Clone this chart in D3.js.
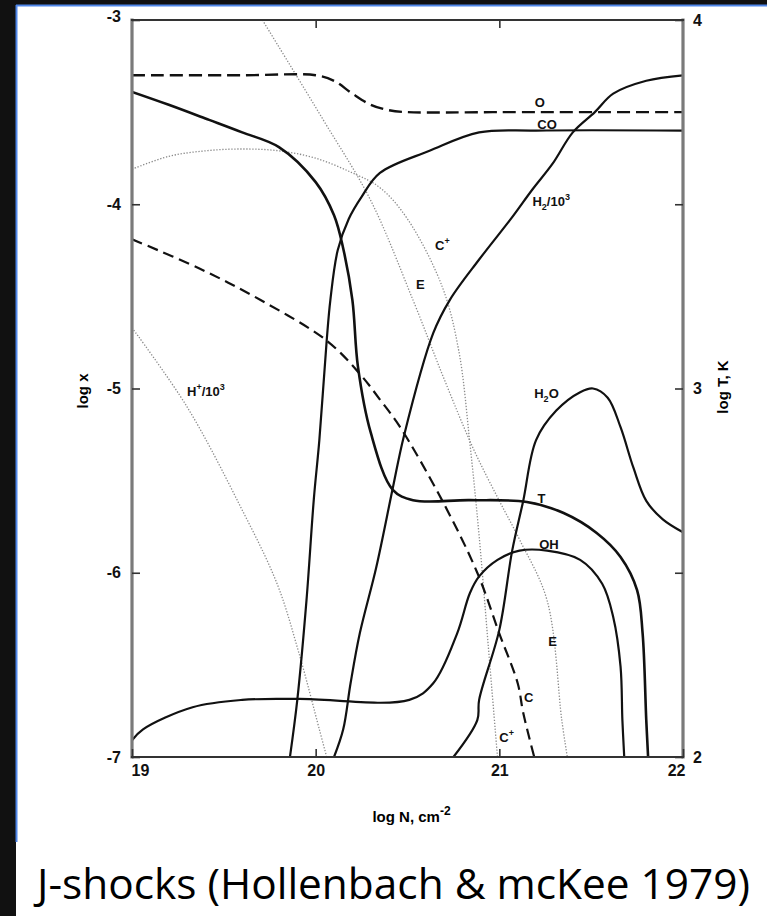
<!DOCTYPE html>
<html>
<head>
<meta charset="utf-8">
<script src="https://cdn.jsdelivr.net/npm/d3@7"></script>
<style>
  body { margin: 0; background: #111; }
  text { font-family: "Liberation Sans", Arial, sans-serif; }
</style>
</head>
<body>
<script>
// values: [log N, log x]  (T is [log N, log T])
var oCurve   = [[19.0,-3.30],[19.6,-3.30],[20.0,-3.30],[20.1,-3.33],[20.2,-3.40],[20.3,-3.46],[20.4,-3.49],[20.5,-3.50],[21.0,-3.50],[22.0,-3.50]];
var coCurve  = [[19.86,-7.0],[19.90,-6.69],[19.95,-6.15],[19.99,-5.60],[20.02,-5.28],[20.06,-4.74],[20.08,-4.52],[20.12,-4.25],[20.18,-4.08],[20.25,-3.96],[20.35,-3.83],[20.62,-3.71],[20.89,-3.61],[21.2,-3.60],[22.0,-3.60]];
var h2Curve  = [[20.10,-7.0],[20.15,-6.85],[20.19,-6.60],[20.24,-6.33],[20.33,-5.97],[20.42,-5.54],[20.48,-5.26],[20.64,-4.70],[20.73,-4.52],[20.89,-4.30],[21.07,-4.07],[21.18,-3.92],[21.29,-3.78],[21.40,-3.61],[21.52,-3.50],[21.62,-3.40],[21.80,-3.33],[22.0,-3.30]];
var cCurve   = [[19.0,-4.19],[19.37,-4.35],[19.70,-4.52],[20.06,-4.74],[20.24,-4.92],[20.35,-5.06],[20.46,-5.21],[20.69,-5.61],[20.88,-6.0],[21.0,-6.33],[21.10,-6.60],[21.13,-6.76],[21.19,-7.0]];
var hPlusCurve = [[19.0,-4.67],[19.30,-5.10],[19.59,-5.64],[19.79,-6.06],[19.91,-6.44],[20.02,-6.85],[20.06,-7.0]];
var cPlusCurve = [[19.0,-3.81],[19.2,-3.74],[19.4,-3.71],[19.6,-3.70],[19.8,-3.71],[20.0,-3.75],[20.2,-3.83],[20.35,-3.91],[20.5,-4.08],[20.69,-4.45],[20.78,-4.8],[20.84,-5.3],[20.89,-5.8],[20.94,-6.4],[20.99,-7.0]];
var eCurve   = [[19.71,-3.0],[20.04,-3.54],[20.30,-3.98],[20.53,-4.52],[20.70,-4.95],[20.86,-5.33],[21.0,-5.61],[21.11,-5.82],[21.26,-6.15],[21.34,-6.80],[21.37,-7.0]];
var ohCurve  = [[19.0,-6.91],[19.06,-6.85],[19.33,-6.73],[19.60,-6.69],[19.91,-6.685],[20.51,-6.69],[20.64,-6.60],[20.77,-6.33],[20.84,-6.11],[20.89,-6.02],[20.99,-5.93],[21.11,-5.88],[21.26,-5.88],[21.44,-5.93],[21.56,-6.06],[21.62,-6.24],[21.66,-6.51],[21.67,-6.80],[21.68,-7.0]];
var h2oCurve = [[20.75,-7.0],[20.88,-6.80],[20.89,-6.69],[21.0,-6.31],[21.07,-5.88],[21.13,-5.61],[21.2,-5.28],[21.31,-5.12],[21.44,-5.02],[21.51,-5.0],[21.59,-5.05],[21.66,-5.21],[21.73,-5.43],[21.80,-5.61],[21.89,-5.71],[22.0,-5.78]];
var tCurve   = [[19.0,3.805],[19.2,3.77],[19.42,3.729],[19.6,3.695],[19.8,3.655],[20.0,3.56],[20.1,3.47],[20.15,3.38],[20.20,3.24],[20.23,3.06],[20.30,2.88],[20.42,2.725],[20.53,2.697],[20.84,2.697],[21.15,2.692],[21.35,2.662],[21.53,2.608],[21.66,2.543],[21.75,2.453],[21.78,2.336],[21.80,2.10],[21.81,2.0]];

var xTicks = [19, 20, 21, 22];
var yLeftTicks = [-3, -4, -5, -6, -7];
var yRightTicks = [2, 2.5, 3, 3.5, 4];

// curve labels, in data coords of the left axis
var labels = [
  ['O', 21.22, -3.47, 'middle'],
  ['CO', 21.26, -3.59, 'middle'],
  ['H_2/10^3', 21.18, -4.01, 'start'],
  ['C^+', 20.69, -4.25, 'middle'],
  ['E', 20.57, -4.46, 'middle'],
  ['H^+/10^3', 19.30, -5.04, 'start'],
  ['H_2O', 21.19, -5.05, 'start'],
  ['T', 21.23, -5.62, 'middle'],
  ['OH', 21.27, -5.87, 'middle'],
  ['E', 21.29, -6.40, 'middle'],
  ['C', 21.16, -6.70, 'middle'],
  ['C^+', 21.04, -6.92, 'middle']
];

(function () {
var W = 767, H = 916;
var mLeft = 132, mRight = 683, mTop = 20, mBottom = 757;

var svg = d3.select('body').append('svg')
  .attr('width', W)
  .attr('height', H);

// slide background
svg.append('rect').attr('width', W).attr('height', H).attr('fill', '#111');
svg.append('rect').attr('x', 16).attr('y', 5).attr('width', W - 16).attr('height', H - 5).attr('fill', '#fff');
svg.append('line').attr('x1', 16.5).attr('x2', 16.5).attr('y1', 5).attr('y2', 842)
  .attr('stroke', '#4f86e8').attr('stroke-width', 2);
svg.append('line').attr('x1', 16).attr('x2', W).attr('y1', 5.5).attr('y2', 5.5)
  .attr('stroke', '#4f86e8').attr('stroke-width', 2);

var x = d3.scaleLinear().domain([19, 22]).range([mLeft, mRight]);
var yL = d3.scaleLinear().domain([-7, -3]).range([mBottom, mTop]);
var yR = d3.scaleLinear().domain([2, 4]).range([mBottom, mTop]);

svg.append('defs').append('clipPath').attr('id', 'plot')
  .append('rect').attr('x', mLeft).attr('y', mTop)
  .attr('width', mRight - mLeft).attr('height', mBottom - mTop);

var g = svg.append('g').attr('clip-path', 'url(#plot)');

var lineL = d3.line().x(d => x(d[0])).y(d => yL(d[1])).curve(d3.curveCatmullRom.alpha(0.5));
var lineR = d3.line().x(d => x(d[0])).y(d => yR(d[1])).curve(d3.curveCatmullRom.alpha(0.5));

function draw(data, line, style) {
  g.append('path')
    .datum(data)
    .attr('d', line)
    .attr('fill', 'none')
    .attr('stroke', style.color || '#111')
    .attr('stroke-width', style.width || 2.2)
    .attr('stroke-dasharray', style.dash || null)
    .attr('stroke-linejoin', 'round');
}

var dotted = {color: '#8a8a8a', width: 1.3, dash: '1.3 1.7'};
draw(hPlusCurve, lineL, dotted);
draw(cPlusCurve, lineL, dotted);
draw(eCurve, lineL, dotted);
draw(oCurve, lineL, {dash: '13 6', width: 2.4});
draw(cCurve, lineL, {dash: '11 6', width: 2.2});
draw(coCurve, lineL, {});
draw(h2Curve, lineL, {});
draw(ohCurve, lineL, {});
draw(h2oCurve, lineL, {});
draw(tCurve, lineR, {width: 2.6});

// frame: grey heavy sides, darker top and bottom
[[mLeft, mTop, mLeft, mBottom, '#7a7a7a', 3.2],
 [mRight, mTop, mRight, mBottom, '#7a7a7a', 3.2],
 [mLeft, mTop, mRight, mTop, '#333', 2.2],
 [mLeft, mBottom, mRight, mBottom, '#333', 2.2]].forEach(function (s) {
  svg.append('line')
    .attr('x1', s[0]).attr('y1', s[1]).attr('x2', s[2]).attr('y2', s[3])
    .attr('stroke', s[4]).attr('stroke-width', s[5]).attr('stroke-linecap', 'square');
});

function styleAxis(sel) {
  sel.select('.domain').remove();
  sel.selectAll('line').attr('stroke', '#333').attr('stroke-width', 1.6);
  sel.selectAll('text')
    .attr('fill', '#111')
    .style('font-size', '16px')
    .style('font-weight', 'bold');
}

svg.append('g').attr('transform', 'translate(0,' + mBottom + ')')
  .call(d3.axisBottom(x).tickValues(xTicks).tickSize(-8).tickPadding(8).tickFormat(d3.format('d')))
  .call(styleAxis)
  .call(a => {
    a.selectAll('text').filter(d => d === 19).attr('text-anchor', 'start').attr('dx', -1);
    a.selectAll('text').filter(d => d === 22).attr('text-anchor', 'end').attr('dx', 2);
  });

svg.append('g').attr('transform', 'translate(0,' + mTop + ')')
  .call(d3.axisTop(x).tickValues(xTicks.slice(1, 3)).tickSize(-8).tickFormat(''))
  .call(styleAxis);

svg.append('g').attr('transform', 'translate(' + mLeft + ',0)')
  .call(d3.axisLeft(yL).tickValues(yLeftTicks).tickSize(-8).tickPadding(11).tickFormat(d => String(d)))
  .call(styleAxis)
  .call(a => a.selectAll('text').filter(d => d === -3).attr('dy', '0.1em'));

svg.append('g').attr('transform', 'translate(' + mRight + ',0)')
  .call(d3.axisRight(yR).tickValues(yRightTicks).tickSize(-8).tickPadding(10)
    .tickFormat(d => Number.isInteger(d) ? String(d) : ''))
  .call(styleAxis);

// axis titles
svg.append('text')
  .attr('x', (mLeft + mRight) / 2 + 4).attr('y', 822)
  .attr('text-anchor', 'middle')
  .style('font-size', '15px').style('font-weight', 'bold')
  .text('log N, cm')
  .append('tspan').attr('baseline-shift', '7').style('font-size', '12px').text('-2');

svg.append('text')
  .attr('transform', 'translate(88,391) rotate(-90)')
  .attr('text-anchor', 'middle')
  .style('font-size', '15px').style('font-weight', 'bold')
  .text('log x');

svg.append('text')
  .attr('transform', 'translate(728,387) rotate(-90)')
  .attr('text-anchor', 'middle')
  .style('font-size', '15px').style('font-weight', 'bold')
  .text('log T, K');

// curve labels with sub/superscripts
labels.forEach(function (l) {
  var t = svg.append('text')
    .attr('x', x(l[1])).attr('y', yL(l[2]))
    .attr('text-anchor', l[3])
    .style('font-size', '13px').style('font-weight', 'bold')
    .attr('fill', '#111');
  var s = l[0], i = 0;
  while (i < s.length) {
    var c = s[i];
    if (c === '_' || c === '^') {
      t.append('tspan')
        .attr('baseline-shift', c === '_' ? '-4' : '6')
        .style('font-size', '9px')
        .text(s[i + 1]);
      i += 2;
    } else {
      var j = i;
      while (j < s.length && s[j] !== '_' && s[j] !== '^') j++;
      t.append('tspan').text(s.slice(i, j));
      i = j;
    }
  }
});

// caption
svg.append('text')
  .attr('x', 37).attr('y', 899)
  .attr('textLength', 713).attr('lengthAdjust', 'spacingAndGlyphs')
  .style('font-family', '"Open Sans", "Noto Sans", sans-serif')
  .style('font-size', '42px')
  .attr('fill', '#000')
  .text('J-shocks (Hollenbach & mcKee 1979)');
})();
</script>
</body>
</html>
